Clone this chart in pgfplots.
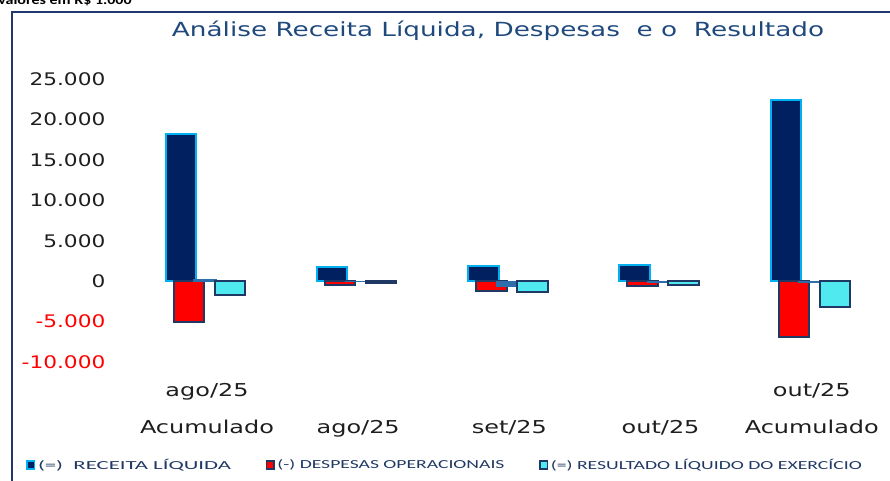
\documentclass[border=0pt]{standalone}
\usepackage{pgfplots}
\pgfplotsset{compat=1.18}
\usepackage{fontspec}
\newfontfamily\tickfont{DejaVu Sans}[FakeStretch=1.35]
\newfontfamily\yfont{DejaVu Sans}[FakeStretch=1.25]
\newfontfamily\legfont{Carlito}
\newfontfamily\notefont{Carlito}[FakeStretch=1.2]

\definecolor{navyfill}{RGB}{0,32,96}
\definecolor{edgeblue}{RGB}{0,176,240}
\definecolor{darkedge}{RGB}{31,56,100}
\definecolor{redfill}{RGB}{255,0,0}
\definecolor{cyanfill}{RGB}{80,233,240}
\definecolor{steel}{RGB}{46,110,170}
\definecolor{framecol}{RGB}{31,56,110}
\definecolor{titlecol}{RGB}{31,73,125}
\definecolor{ticktxt}{RGB}{30,30,30}
\definecolor{legtxt}{RGB}{31,56,100}

\pgfplotsset{
  sqlegend/.style={legend image code/.code={%
    \draw[##1,line width=1.2pt] (0pt,-2.8pt) rectangle (5.6pt,2.8pt);}},
}
% legend texts are widened to the lengths seen in the reference
\newcommand{\legtext}[2]{\resizebox{#1}{\height}{#2}}

\begin{document}
\begin{tikzpicture}
\useasboundingbox (0,0) rectangle (667.5pt,-360.75pt);
\clip (0,0) rectangle (667.5pt,-360.75pt);
\draw[framecol, line width=1.5pt] (9pt,-9pt) rectangle (700pt,-400pt);
\node[anchor=base west, inner sep=0, font=\notefont\bfseries\fontsize{10}{12}\selectfont]
  at (-1.5pt,-3.75pt) {valores em R\$ 1.000};
\node[anchor=base, inner sep=0, text=titlecol, font=\tickfont\fontsize{14.6}{17}\selectfont]
  at (373.5pt,-27.75pt) {Análise Receita Líquida, Despesas\ \ e o\ \ Resultado};

\begin{axis}[
  at={(98.55pt,-271.5pt)}, anchor=south west,
  scale only axis, width=567pt, height=212.25pt,
  xmin=-0.5, xmax=4.5, ymin=-10000, ymax=25000,
  scaled y ticks=false,
  axis line style={draw=none}, tick style={draw=none},
  xtick={0,1,2,3,4},
  xticklabels={Acumulado,ago/25,set/25,out/25,Acumulado},
  extra x ticks={0,4},
  extra x tick labels={ago/25,out/25},
  extra x tick style={grid=none, xticklabel style={yshift=27.75pt}},
  xticklabel style={font=\tickfont\fontsize{13.3}{16}\selectfont, text=ticktxt,
    anchor=base, yshift=-53.25pt},
  ytick={-10000,-5000,0,5000,10000,15000,20000,25000},
  yticklabels={\textcolor{red}{-10.000},\textcolor{red}{-5.000},0,5.000,10.000,15.000,20.000,25.000},
  yticklabel style={font=\yfont\fontsize{13}{15}\selectfont, text=ticktxt,
    anchor=east, xshift=-16pt},
  legend columns=3,
  legend style={at={(-0.1447,-0.364)}, anchor=west, draw=none, fill=none,
    font=\legfont\fontsize{9.2}{11}\selectfont, text=legtxt,
    /tikz/every even column/.append style={column sep=24pt}},
  legend cell align=left,
]
\addplot[ybar, bar width=0.2, bar shift=-0.172, fill=navyfill, draw=edgeblue,
  line width=1.5pt, sqlegend]
  coordinates {(0,18180) (1,1730) (2,1850) (3,1980) (4,22380)};
\addlegendentry{\legtext{144.75pt}{(=)\ \ RECEITA LÍQUIDA}}
\addplot[ybar, bar width=0.2, bar shift=-0.119, fill=redfill, draw=darkedge,
  line width=1.5pt, sqlegend]
  coordinates {(0,-5070) (1,-500) (2,-1240) (3,-620) (4,-6930)};
\addlegendentry{\legtext{170.25pt}{(-) DESPESAS OPERACIONAIS}}
\addplot[ybar, bar width=0.15, bar shift=-0.013, fill=steel, draw=steel,
  line width=0.5pt, forget plot]
  coordinates {(0,250) (1,-80) (2,-600) (3,-200) (4,-100)};
\addplot[ybar, bar width=0.2, bar shift=0.152, fill=cyanfill, draw=darkedge,
  line width=1.5pt, sqlegend]
  coordinates {(0,-1730) (1,-200) (2,-1360) (3,-500) (4,-3200)};
\addlegendentry{\legtext{233.25pt}{(=) RESULTADO LÍQUIDO DO EXERCÍCIO}}
\end{axis}
\end{tikzpicture}
\end{document}
